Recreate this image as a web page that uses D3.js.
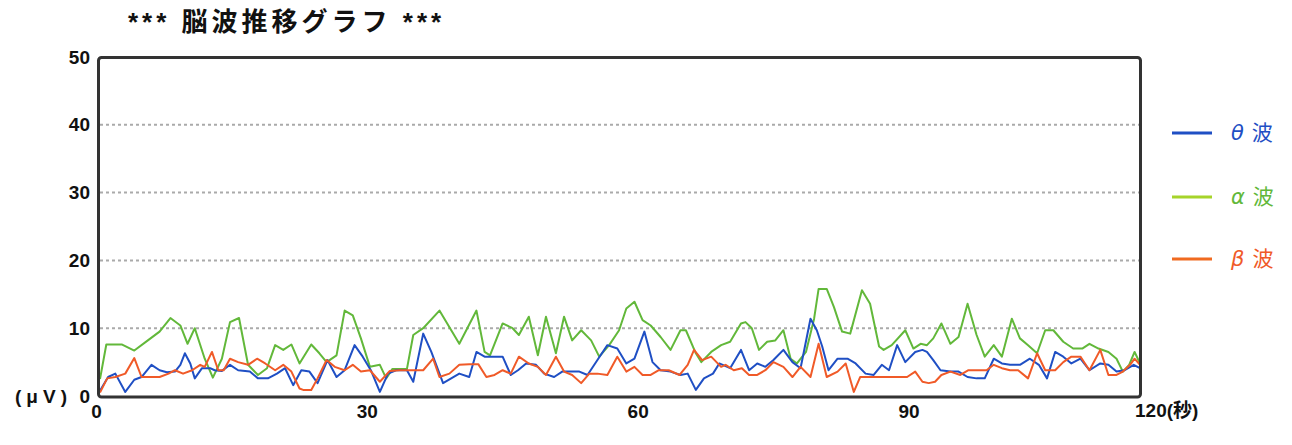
<!DOCTYPE html>
<html><head><meta charset="utf-8">
<script src="https://cdn.jsdelivr.net/npm/d3@7"></script>
<style>
body{margin:0;background:#fff;}
svg{display:block;}
text{font-family:"Liberation Sans","Noto Sans CJK JP",sans-serif;}
</style></head>
<body>
<svg id="chart" width="1292" height="445"></svg>
<script>
// ---- data (seconds, microvolts) ----
const title = "*** 脳波推移グラフ ***";
const yTicks = [0, 10, 20, 30, 40, 50];
const xTicks = [0, 30, 60, 90];
const xEndLabel = "120(秒)";
const yUnitLabel = "(μV)";
const seriesNames = ["θ波", "α波", "β波"];
const seriesGreek = ["θ", "α", "β"];

const thetaT = [0,0.9,1.7,2.8,3.8,4.6,5.7,6.6,7.4,8.3,8.9,9.4,10.0,10.5,11.3,12.2,12.7,13.5,14.4,15.3,16.6,17.5,18.6,19.6,20.5,21.4,22.3,23.2,24.1,25.2,26.2,27.1,28.2,29.1,30.0,31.0,31.9,32.8,34.0,34.7,35.8,36.7,38.0,38.9,39.8,40.9,41.7,42.6,43.5,44.6,45.5,46.3,47.2,48.3,49.2,50.3,51.2,53.1,54.0,55.1,56.2,57.3,58.3,59.2,60.3,61.2,62.1,63.2,64.3,65.1,66.0,66.9,67.9,68.6,69.8,71.0,71.9,72.8,73.7,74.6,75.7,76.7,77.6,78.7,79.4,80.0,80.7,81.7,82.8,83.7,84.8,85.7,86.6,87.4,88.3,89.2,90.3,91.1,91.6,92.3,93.1,94.2,95.1,96.1,97.1,98.0,99.0,99.9,100.8,101.9,103.0,104.0,104.9,105.8,106.7,107.6,108.6,109.6,110.8,111.7,112.6,113.5,114.5,115.2];
const thetaV = [0.8,2.8,3.3,0.6,2.4,2.8,4.6,3.8,3.5,3.6,4.6,6.3,4.8,2.6,4.1,4.1,3.8,3.7,4.6,3.8,3.6,2.6,2.6,3.3,4.1,1.6,3.8,3.6,1.9,5.3,2.8,3.8,7.5,5.8,3.8,0.6,3.3,3.8,3.8,2.1,9.2,6.5,1.9,2.6,3.3,2.8,6.5,5.8,5.8,5.8,3.1,3.8,4.8,4.6,3.3,2.8,3.6,3.6,3.1,5.3,7.5,7.0,4.8,5.5,9.5,5.0,3.8,3.6,3.1,3.3,0.9,2.6,3.3,4.8,4.1,6.8,3.8,4.8,4.3,5.3,6.8,5.0,4.1,11.4,9.7,7.3,3.8,5.5,5.5,4.8,3.3,3.1,4.6,3.8,7.5,5.0,6.5,6.8,6.5,5.3,3.8,3.6,3.6,2.8,2.6,2.6,5.5,4.8,4.6,4.6,5.5,4.6,2.6,6.5,5.8,4.8,5.5,3.8,4.8,4.6,3.6,3.8,4.6,4.1];

const alphaT = [0,0.7,2.4,3.8,5.3,6.6,7.8,8.9,9.7,10.5,11.6,12.5,13.5,14.4,15.4,16.4,17.5,18.5,19.4,20.3,21.2,22.1,23.4,24.3,25.1,26.2,27.1,28.0,28.9,29.9,31.0,31.7,32.4,34.0,34.7,35.8,37.6,39.8,41.7,42.6,43.2,44.6,45.7,46.4,47.5,48.5,49.4,50.5,51.4,52.3,53.3,54.4,55.3,56.4,57.5,58.3,59.2,60.1,61.0,62.1,63.2,64.3,64.9,66.0,66.6,67.7,68.8,69.8,71.0,71.5,72.2,73.0,73.9,74.8,75.7,76.5,77.2,78.2,79.1,79.6,80.5,81.3,82.2,83.1,84.4,85.3,86.3,86.8,87.7,89.2,90.1,90.9,91.6,92.3,93.2,94.2,95.1,96.1,97.1,98.0,99.0,99.9,101.0,101.9,102.8,103.8,104.7,105.6,106.7,107.8,108.8,109.6,110.6,111.7,112.6,113.3,114.0,114.6,115.2];
const alphaV = [2.5,7.6,7.6,6.7,8.2,9.5,11.5,10.4,7.7,10.0,5.5,2.7,5.5,10.9,11.5,4.6,3.1,4.1,7.5,6.8,7.6,4.8,7.6,6.3,5.0,6.0,12.6,11.9,8.5,4.3,4.6,2.6,4.0,4.0,9.0,10.0,12.6,7.7,12.6,6.5,6.0,10.7,10.0,9.0,11.7,6.0,11.7,6.3,11.7,8.2,9.7,8.2,5.8,7.5,9.7,12.9,13.9,11.2,10.4,8.7,6.8,9.7,9.7,6.3,5.0,6.5,7.5,8.0,10.7,10.9,10.0,6.8,8.0,8.2,9.7,5.5,4.8,6.5,11.4,15.8,15.8,13.1,9.5,9.2,15.6,13.6,7.3,6.8,7.5,9.7,7.0,7.7,7.5,8.5,10.7,7.7,8.7,13.6,9.0,5.8,7.5,5.8,11.4,8.5,7.5,6.3,9.7,9.7,8.0,7.0,7.0,7.7,7.0,6.5,5.5,3.6,4.6,6.5,4.8];

const betaT = [0,0.8,1.7,2.8,3.8,4.6,5.7,6.6,7.6,8.3,9.2,10.2,11.1,11.6,12.4,13.1,13.7,14.4,15.3,16.4,17.4,18.3,19.4,20.3,21.2,22.1,22.5,23.4,24.1,25.1,26.0,27.1,28.0,28.9,29.9,31.0,32.1,33.2,34.7,35.8,36.9,37.6,38.7,39.8,40.9,41.9,42.8,43.7,44.6,45.5,46.4,47.5,48.5,49.4,50.5,51.4,52.3,53.3,54.2,55.1,56.2,57.3,58.3,59.2,60.1,61.0,61.9,63.0,64.2,65.1,65.8,66.7,67.7,68.8,69.3,70.2,71.1,71.9,72.8,73.7,74.6,75.7,76.7,77.6,78.7,79.6,80.5,81.7,82.6,83.5,84.2,85.2,86.3,87.4,88.5,89.4,90.3,91.1,91.8,92.5,93.2,94.2,95.3,96.2,98.2,99.0,99.9,100.8,101.7,102.8,103.8,104.7,105.8,106.7,107.6,108.6,109.6,110.8,111.7,112.6,113.3,114.1,114.6,115.2];
const betaV = [0.5,2.6,2.8,3.3,5.6,2.8,2.8,2.8,3.3,3.8,3.3,3.8,4.6,4.3,6.5,3.8,3.8,5.5,5.0,4.6,5.5,4.8,3.8,4.6,3.6,1.1,0.9,0.9,2.6,5.3,4.3,3.8,4.6,3.6,3.8,2.1,3.7,3.8,3.8,3.8,5.5,2.8,3.3,4.6,4.7,4.7,2.8,3.1,3.8,3.3,5.8,4.8,4.3,3.1,5.8,3.6,3.1,1.9,3.3,3.3,3.1,5.8,3.6,4.3,3.1,3.1,3.8,3.8,3.1,4.6,6.8,5.3,5.8,4.3,4.6,3.8,4.1,3.1,3.1,3.8,5.0,4.3,2.8,4.3,2.8,7.7,2.8,3.6,4.8,0.6,2.8,2.8,2.8,2.8,2.8,2.8,3.6,2.1,1.9,2.1,3.1,3.6,3.1,3.8,3.8,4.6,4.1,3.8,3.8,2.6,6.3,3.8,3.8,5.0,5.8,5.8,3.8,6.8,3.1,3.1,3.6,4.6,5.5,4.6];

const seriesColors = ["#1f4fc4", "#62b83a", "#f05a28"];
const legendLineColors = ["#1f4fc4", "#a6d42a", "#f06a20"];

// ---- drawing ----
const svg = d3.select("#chart");
const x = d3.scaleLinear().domain([0, 115.2]).range([100, 1140]);
const y = d3.scaleLinear().domain([0, 50]).range([396, 57]);

// title
svg.append("text").attr("x", 128).attr("y", 31)
  .attr("font-size", 26).attr("font-weight", "bold").attr("letter-spacing", 4)
  .attr("font-family", "'Noto Sans CJK JP',sans-serif")
  .attr("fill", "#111").attr("xml:space", "preserve").text(title);

// gridlines
svg.append("g").selectAll("line").data(yTicks.filter(d => d > 0 && d < 50)).join("line")
  .attr("x1", x.range()[0]).attr("x2", x.range()[1])
  .attr("y1", d => y(d)).attr("y2", d => y(d))
  .attr("stroke", "#aaa").attr("stroke-width", 2).attr("stroke-dasharray", "3,3");

// series
const series = [[thetaT, thetaV], [alphaT, alphaV], [betaT, betaV]];
const line = d3.line().x(d => x(d[0])).y(d => y(d[1]));
svg.append("defs").append("clipPath").attr("id", "clip").append("rect")
  .attr("x", 100).attr("y", 57).attr("width", 1040).attr("height", 339);
const g = svg.append("g").attr("clip-path", "url(#clip)");
[1, 0, 2].forEach(i => {
  const [ts, vs] = series[i];
  g.append("path").datum(ts.map((t, k) => [t, vs[k]]))
    .attr("fill", "none").attr("stroke", seriesColors[i]).attr("stroke-width", 2)
    .attr("stroke-linejoin", "round").attr("d", line);
});

// frame
svg.append("rect").attr("x", 98.5).attr("y", 57.5).attr("width", 1042).attr("height", 339.5)
  .attr("rx", 3).attr("fill", "none").attr("stroke", "#333").attr("stroke-width", 3);

// y axis labels
const yAxis = d3.axisLeft(y).tickValues(yTicks).tickSize(0).tickPadding(0);
const gy = svg.append("g").attr("transform", "translate(90,0)").call(yAxis);
gy.select(".domain").remove();
gy.selectAll("text").attr("font-size", 19).attr("font-weight", "bold")
  .attr("font-family", "'Liberation Sans',sans-serif").attr("fill", "#111");
svg.append("text").attr("x", 72).attr("y", y(0)).attr("dy", "0.35em")
  .attr("text-anchor", "end").attr("font-size", 19).attr("font-weight", "bold")
  .attr("letter-spacing", 5)
  .attr("font-family", "'Noto Sans CJK JP',sans-serif").attr("fill", "#111").text(yUnitLabel);

// x axis labels
const xAxis = d3.axisBottom(x).tickValues(xTicks).tickSize(0).tickPadding(0);
const gx = svg.append("g").attr("transform", "translate(-4,404)").call(xAxis);
gx.select(".domain").remove();
gx.selectAll("text").attr("font-size", 19).attr("font-weight", "bold")
  .attr("font-family", "'Liberation Sans',sans-serif").attr("fill", "#111");
svg.append("text").attr("x", x.range()[1] - 5).attr("y", 404).attr("dy", "0.71em")
  .attr("font-size", 19).attr("font-weight", "bold")
  .attr("font-family", "'Noto Sans CJK JP',sans-serif").attr("fill", "#111").text(xEndLabel);

// legend
const lg = svg.append("g");
const legendY = [133, 197, 259];
seriesNames.forEach((name, i) => {
  lg.append("line").attr("x1", 1172).attr("x2", 1212).attr("y1", legendY[i]).attr("y2", legendY[i])
    .attr("stroke", legendLineColors[i]).attr("stroke-width", 3);
  const t = lg.append("text").attr("x", 1231).attr("y", legendY[i]).attr("dy", "0.35em")
    .attr("font-size", 21).attr("fill", seriesColors[i])
    .attr("font-family", "'Noto Sans CJK JP',sans-serif");
  t.append("tspan").attr("font-style", "italic").attr("font-family", "'DejaVu Sans',sans-serif").text(seriesGreek[i]);
  t.append("tspan").attr("dx", 8).text(name.slice(1));
});
</script>
</body></html>
